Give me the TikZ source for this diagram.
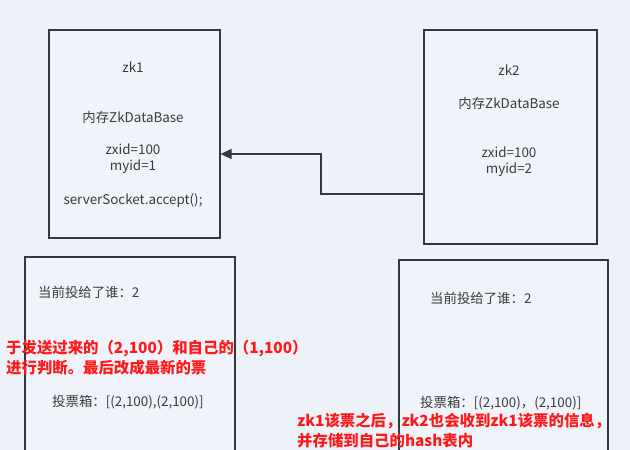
\documentclass[tikz,border=0pt]{standalone}
\usepackage{fontspec}
\setmainfont{Noto Sans CJK SC}
\usetikzlibrary{arrows.meta}
\definecolor{bg}{HTML}{EDF2F9}
\definecolor{boxfill}{HTML}{F0F4FA}
\definecolor{edge}{HTML}{33383E}
\definecolor{txt}{HTML}{3A3A3A}
\definecolor{note}{HTML}{FF1A1A}
\begin{document}
\begin{tikzpicture}[x=1pt,y=-1pt,
  box/.style={draw=edge, line width=1.6pt, fill=boxfill, anchor=north west, inner sep=0pt},
  lbl/.style={text=txt, font=\fontsize{13.4}{16}\selectfont, inner sep=0pt},
  notetext/.style={text=note, font=\fontsize{15.4}{20}\selectfont\bfseries, align=left, anchor=west, inner sep=0pt},
  conn/.style={draw=edge, line width=1.6pt, -{Triangle[length=11pt,width=10pt]}}]
\useasboundingbox (0,0) rectangle (630,450);
\fill[bg] (0,0) rectangle (630,450);
\clip (0,0) rectangle (630,450);
% top boxes
\node[box, minimum width=171pt, minimum height=208pt] (zk1) at (48,29) {};
\node[box, minimum width=173pt, minimum height=214pt] (zk2) at (423,29) {};
% bottom boxes
\node[box, minimum width=210pt, minimum height=230pt] (v1) at (24,256) {};
\node[box, minimum width=209pt, minimum height=230pt] (v2) at (398,259) {};
% zk1 texts
\node[lbl] (zk1name) at (133,67) {zk1};
\node[lbl] (zk1db) at (133,117) {内存ZkDataBase};
\node[lbl, align=center] (zk1ids) at (133,159) {zxid=100\\myid=1};
\node[lbl] (zk1acc) at (133,201) {serverSocket.accept();};
% zk2 texts
\node[lbl] (zk2name) at (509,70) {zk2};
\node[lbl] (zk2db) at (509,103) {内存ZkDataBase};
\node[lbl, align=center] (zk2ids) at (509,162) {zxid=100\\myid=2};
% connector
\coordinate (b1) at (321,194);
\coordinate (b2) at (321,154);
\draw[conn] (zk2.west |- b1) -- (b1) -- (b2) -- (zk1.east |- b2);
% bottom texts
\node[lbl, anchor=west] (v1cur) at (38,292) {当前投给了谁：2};
\node[lbl, anchor=west] (v1box) at (52,402) {投票箱：[(2,100),(2,100)]};
\node[lbl, anchor=west] (v2cur) at (430,298) {当前投给了谁：2};
\node[lbl, anchor=west] (v2box) at (420,403) {投票箱：[(2,100)，(2,100)]};
% red notes
\node[notetext] (n1) at (6,358) {于发送过来的（2,100）和自己的（1,100）\\进行判断。最后改成最新的票};
\node[notetext] (n2) at (297,431) {zk1该票之后，zk2也会收到zk1该票的信息，\\并存储到自己的hash表内};
\end{tikzpicture}
\end{document}
